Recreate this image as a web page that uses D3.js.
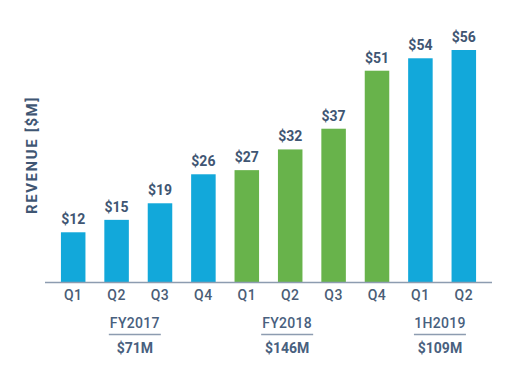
<!DOCTYPE html>
<html>
<head>
<meta charset="utf-8">
<script src="https://cdn.jsdelivr.net/npm/d3@7"></script>
<style>
  html, body { margin: 0; padding: 0; background: #ffffff; }
  svg { display: block; }
  text { font-family: Roboto, "DejaVu Sans", sans-serif; }
</style>
</head>
<body>
<svg id="chart" width="509" height="366"></svg>
<script>
// ---- data ----
const quarters = ["Q1", "Q2", "Q3", "Q4", "Q1", "Q2", "Q3", "Q4", "Q1", "Q2"];
const revenue = [12, 15, 19, 26, 27, 32, 37, 51, 54, 56];
const periods = ["FY2017", "FY2017", "FY2017", "FY2017", "FY2018", "FY2018", "FY2018", "FY2018", "1H2019", "1H2019"];
const groupLabels = ["FY2017", "FY2018", "1H2019"];
const groupTotals = ["$71M", "$146M", "$109M"];
const yLabel = "REVENUE [$M]";

// ---- layout ----
const W = 509, H = 366;
const baseY = 282;
const textColor = "#3f5673";
const blue = "#12a8da";
const green = "#68b34b";
const periodColor = { "FY2017": blue, "FY2018": green, "1H2019": blue };
const groupAnchor = [1.42, 4.93, 8.45];

const svg = d3.select("#chart");
svg.append("rect").attr("width", W).attr("height", H).attr("fill", "#fff");

const idx = d3.range(revenue.length);
const x = d3.scaleBand().domain(idx).range([45, 492]).paddingInner(0.435).paddingOuter(0.367);
const y = d3.scaleLinear().domain([0, 56]).range([baseY, 50]);

// bars
svg.append("g").selectAll("rect").data(idx).join("rect")
  .attr("x", i => x(i))
  .attr("y", i => y(revenue[i]))
  .attr("width", x.bandwidth())
  .attr("height", i => baseY - y(revenue[i]))
  .attr("fill", i => periodColor[periods[i]]);

// value labels
svg.append("g").selectAll("text").data(idx).join("text")
  .attr("x", i => x(i) + x.bandwidth() / 2)
  .attr("y", i => y(revenue[i]) - 8)
  .attr("text-anchor", "middle")
  .attr("font-size", 14)
  .attr("font-weight", 700)
  .attr("fill", textColor)
  .text(i => "$" + revenue[i]);

// x axis
const xAxis = svg.append("g").attr("transform", `translate(0,${baseY})`)
  .call(d3.axisBottom(x).tickSize(0).tickPadding(8).tickFormat(i => quarters[i]));
xAxis.select(".domain").remove();
xAxis.selectAll("text")
  .attr("font-size", 14)
  .attr("font-weight", 500)
  .attr("letter-spacing", 0.5)
  .attr("font-family", "Roboto, sans-serif")
  .attr("fill", "#4a5d76");
svg.append("line")
  .attr("x1", 45).attr("x2", 492)
  .attr("y1", baseY + 0.5).attr("y2", baseY + 0.5)
  .attr("stroke", "#8d9cb0").attr("stroke-width", 1.5);

// group labels
const gx = a => x(0) + a * x.step() + x.bandwidth() / 2;
const groups = svg.append("g").selectAll("g").data(d3.range(groupLabels.length)).join("g")
  .attr("transform", k => `translate(${gx(groupAnchor[k])},0)`);
groups.append("text")
  .attr("y", 328).attr("text-anchor", "middle")
  .attr("font-size", 14).attr("font-weight", 500)
  .attr("letter-spacing", 0.3)
  .attr("fill", "#48607e")
  .text(k => groupLabels[k]);
groups.append("line")
  .attr("x1", -26).attr("x2", 26)
  .attr("y1", 334.5).attr("y2", 334.5)
  .attr("stroke", "#8d9cb0").attr("stroke-width", 1.5);
groups.append("text")
  .attr("y", 353).attr("text-anchor", "middle")
  .attr("font-size", 14).attr("font-weight", 700)
  .attr("fill", "#48607e")
  .text(k => groupTotals[k]);

// y label
svg.append("text")
  .attr("transform", "translate(37,155) rotate(-90)")
  .attr("text-anchor", "middle")
  .attr("font-size", 15)
  .attr("font-weight", 700)
  .attr("letter-spacing", 1.6)
  .attr("fill", textColor)
  .text(yLabel);
</script>
</body>
</html>
